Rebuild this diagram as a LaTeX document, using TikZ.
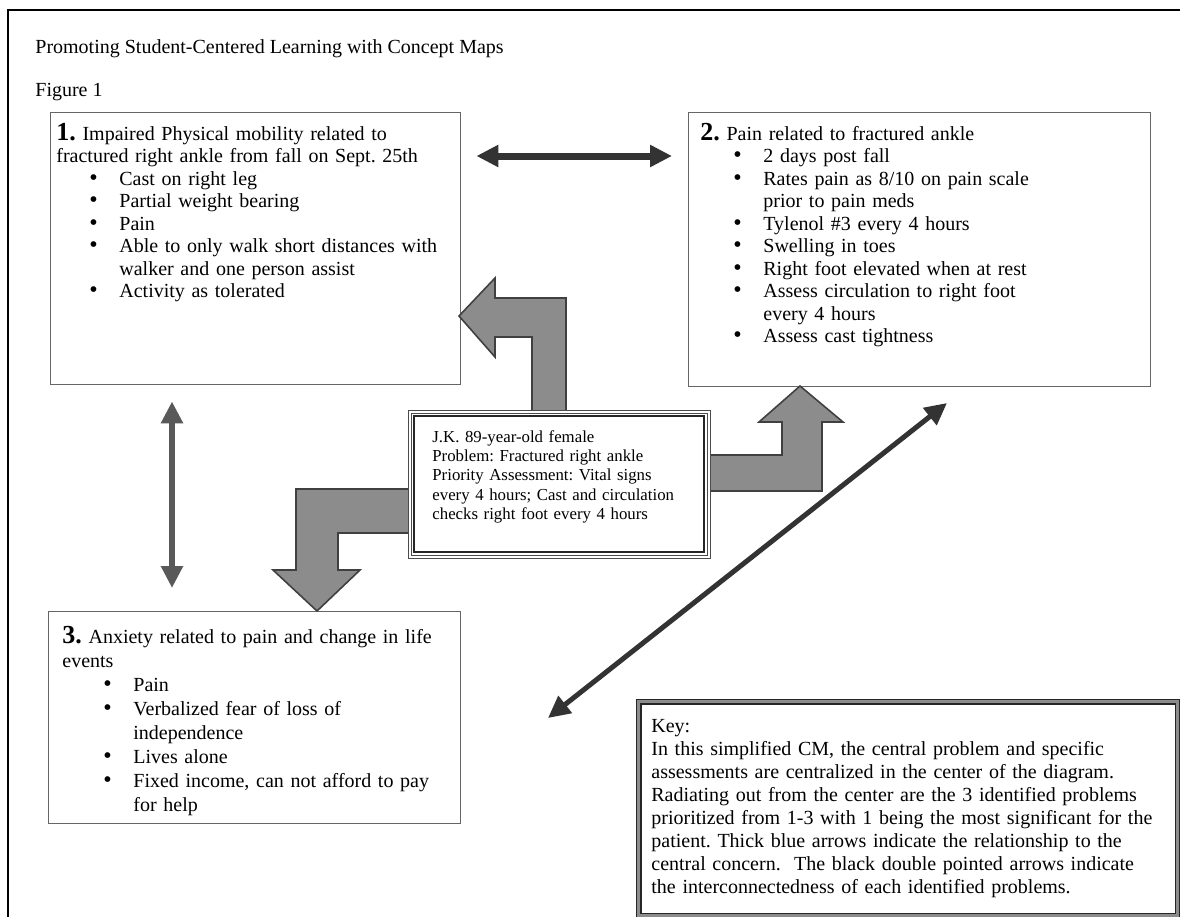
\documentclass[tikz,border=0pt]{standalone}
\usepackage{fontspec}
\setmainfont{Liberation Serif}
\usetikzlibrary{calc,arrows.meta}
\frenchspacing

\newlength{\bulskip}
\setlength{\bulskip}{16.5pt}
\newcommand{\dotmark}{{\fontsize{12}{10}\selectfont\textbullet}}
\newcommand{\bul}[1]{\hspace*{\bulskip}\makebox[15pt][l]{\dotmark}#1}
\newcommand{\cnt}[1]{\hspace*{\bulskip}\hspace*{15pt}#1}
\newcommand{\num}[1]{{\fontsize{13}{10}\selectfont\bfseries #1.}}

\tikzset{
  probbox/.style={draw=black!60, line width=0.7pt, anchor=north west, inner sep=0pt},
  probtext/.style={anchor=base west, inner sep=0pt, text width=#1, align=left, font=\fontsize{10}{11.25}\selectfont},
  bentarrow/.style={draw=black!75, line width=0.8pt, fill=black!45, line join=miter},
  linkarrow/.style={line width=3.5pt, draw=black!80, {Triangle[length=11pt,width=10.5pt]}-{Triangle[length=11pt,width=10.5pt]}}
}

\begin{document}
\begin{tikzpicture}[x=0.5pt, y=-0.5pt]
	\useasboundingbox (0,0) rectangle (1180,917);
	\draw[line width=1pt] (8,917) -- (8,10) -- (1180,10);

	\node[anchor=base west, inner sep=0pt, font=\fontsize{10}{12}\selectfont] (title) at (35,53) {Promoting Student-Centered Learning with Concept Maps};
	\node[anchor=base west, inner sep=0pt, font=\fontsize{10}{12}\selectfont] (fig) at (35,96) {Figure 1};

	\node[probbox, minimum width=205pt, minimum height=136pt] (box1) at (50,112) {};
	\node[probbox, minimum width=231pt, minimum height=137pt] (box2) at (688,112) {};
	\node[probbox, minimum width=206pt, minimum height=106pt] (box3) at (48,611) {};

	\node[probtext=200pt] (t1) at ($(box1.north west)+(6,28)$) {\num{1} Impaired Physical mobility related to\\
		fractured right ankle from fall on Sept. 25th\\
		\bul{Cast on right leg}\\
		\bul{Partial weight bearing}\\
		\bul{Pain}\\
		\bul{Able to only walk short distances with}\\
		\cnt{walker and one person assist}\\
		\bul{Activity as tolerated}};
	\node[probtext=225pt] (t2) at ($(box2.north west)+(12,28)$) {\num{2} Pain related to fractured ankle\\
		\bul{2 days post fall}\\
		\bul{Rates pain as 8/10 on pain scale}\\
		\cnt{prior to pain meds}\\
		\bul{Tylenol \#3 every 4 hours}\\
		\bul{Swelling in toes}\\
		\bul{Right foot elevated when at rest}\\
		\bul{Assess circulation to right foot}\\
		\cnt{every 4 hours}\\
		\bul{Assess cast tightness}};
	\node[probtext=200pt, font=\fontsize{10}{12}\selectfont\setlength{\bulskip}{20.5pt}] (t3) at ($(box3.north west)+(14,32)$) {\num{3} Anxiety related to pain and change in life\\
		events\\
		\bul{Pain}\\
		\bul{Verbalized fear of loss of}\\
		\cnt{independence}\\
		\bul{Lives alone}\\
		\bul{Fixed income, can not afford to pay}\\
		\cnt{for help}};

	% arrows out of the centre
	\draw[bentarrow] (566,411) -- (566,298) -- (495,298) -- (495,278) -- (459,316) -- (495,357) -- (495,337) -- (532,337) -- (532,411) -- cycle;
	\draw[bentarrow] (708,455) -- (782,455) -- (782,422) -- (759,422) -- (800,386) -- (843,422) -- (822,422) -- (822,491) -- (708,491) -- cycle;
	\draw[bentarrow] (413,489) -- (296,489) -- (296,570) -- (273,570) -- (317,611) -- (360,570) -- (338,570) -- (338,533) -- (413,533) -- cycle;

	\node[anchor=north west, inner sep=0pt, fill=white, draw=black!70, line width=0.5pt, double=white, double distance=1pt, minimum width=149.5pt, minimum height=72.5pt] (centre) at (409,411) {};
	\draw[black!85, line width=0.6pt] ($(centre.north west)+(5,5)$) rectangle ($(centre.south east)+(-5,-5)$);
	\node[probtext=130pt, font=\fontsize{8.4}{9.7}\selectfont] (tc) at (432,442) {J.K. 89-year-old female\\
		Problem: Fractured right ankle\\
		Priority Assessment: Vital signs\\
		every 4 hours; Cast and circulation\\
		checks right foot every 4 hours};

	% links between the problems
	\draw[linkarrow] ($(box1.north east)+(15,44)$) -- ($(box2.north west)+(-16,44)$);
	\draw[linkarrow, line width=3pt, draw=black!65] ($(box1.south west)+(122,16)$) -- ($(box3.north west)+(124,-23)$);
	\draw[linkarrow, line width=2.5pt] (548,718) -- (947,403);

	\node[anchor=north west, inner sep=0pt, draw=black!85, line width=0.7pt, double=black!45, double distance=1.6pt, minimum width=269.5pt, minimum height=107pt] (key) at (638,701) {};
	\node[probtext=262pt, font=\fontsize{10}{11.5}\selectfont] (tk) at (651,732) {Key:\\
		In this simplified CM, the central problem and specific\\
		assessments are centralized in the center of the diagram.\\
		Radiating out from the center are the 3 identified problems\\
		prioritized from 1-3 with 1 being the most significant for the\\
		patient. Thick blue arrows indicate the relationship to the\\
		central concern.\ \ The black double pointed arrows indicate\\
		the interconnectedness of each identified problems.};
\end{tikzpicture}
\end{document}
